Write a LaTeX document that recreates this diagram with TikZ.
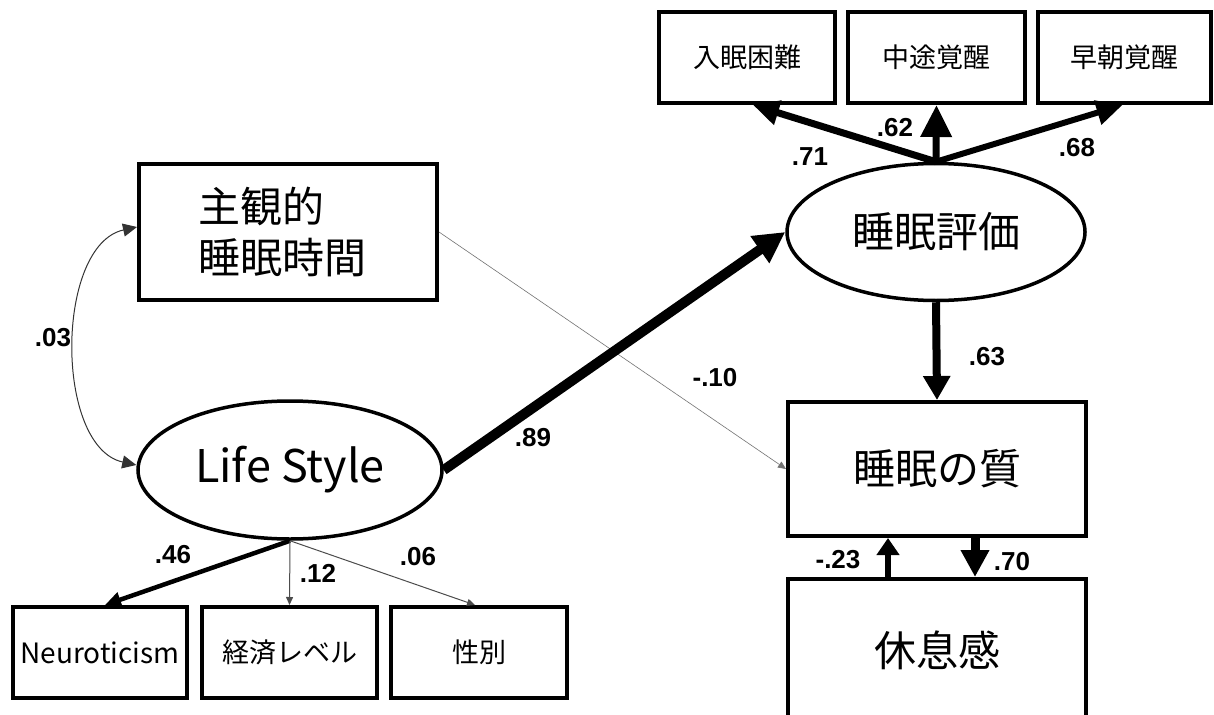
\documentclass[tikz,border=0pt]{standalone}
\usepackage{fontspec}
\setmainfont{Noto Sans CJK JP}
\newfontfamily\numfont{Liberation Sans}
\usetikzlibrary{arrows.meta,shapes.geometric}
\begin{document}
\begin{tikzpicture}[x=1pt,y=-1pt,
  box/.style={draw, line width=4pt, rectangle, inner sep=0pt, font=\fontsize{27}{32}\selectfont},
  ell/.style={draw, line width=3.5pt, ellipse, inner sep=0pt},
  big/.style={font=\fontsize{42}{51}\selectfont},
  num/.style={font=\numfont\bfseries\fontsize{26}{30}\selectfont, inner sep=0pt},
  arr/.style 2 args={-{Triangle[length=#1pt,width=#2pt]}},
]
\useasboundingbox[fill=white] (0,0) rectangle (1214,714);

% nodes
\node[box, minimum width=176pt, minimum height=91pt] (n1) at (747,57.5) {入眠困難};
\node[box, minimum width=177pt, minimum height=91pt] (n2) at (936.5,57.5) {中途覚醒};
\node[box, minimum width=173pt, minimum height=91pt] (n3) at (1124.5,57.5) {早朝覚醒};
\node[ell, big, minimum width=298pt, minimum height=137pt] (sev) at (936,232) {睡眠評価};
\node[box, big, minimum width=298pt, minimum height=136pt, text width=180pt, align=left] (subj) at (288,232) {主観的\\睡眠時間};
\node[ell, font=\fontsize{45}{50}\selectfont, minimum width=304pt, minimum height=138pt] (ls) at (290,470) {Life Style};
\node[box, big, minimum width=298pt, minimum height=134pt] (qual) at (937,469) {睡眠の質};
\node[box, big, minimum width=298pt, minimum height=142pt] (rest) at (937,650) {休息感};
\node[box, font=\fontsize{28}{32}\selectfont, minimum width=174pt, minimum height=91pt] (neu) at (100,652.5) {Neuroticism};
\node[box, minimum width=175pt, minimum height=91pt] (eco) at (289.5,652.5) {経済レベル};
\node[box, minimum width=176pt, minimum height=91pt] (sex) at (479,652.5) {性別};

% connectors
\draw[line width=7pt, arr={26}{24}] (sev.north) -- ([xshift=6pt]n1.south);
\draw[line width=7pt, arr={32}{30}] (sev.north) -- (n2.south);
\draw[line width=6pt, arr={26}{24}] (sev.north) -- ([xshift=-2pt]n3.south);
\draw[line width=0.6pt, black!55, arr={8}{7}] (subj.east) -- (qual.west);
\draw[line width=10pt, arr={31}{31}] (ls.east) -- (sev.west);
\draw[line width=8pt, arr={24}{26}] (sev.south) -- (qual.north);
\draw[line width=6pt, arr={17}{22}] ([xshift=-49pt]rest.north) -- ([xshift=-49pt]qual.south);
\draw[line width=9pt, arr={27}{27}] ([xshift=38pt]qual.south) -- ([xshift=38pt]rest.north);
\draw[line width=4.5pt, arr={16}{15}] (ls.south) -- ([xshift=5pt]neu.north);
\draw[line width=1pt, black!70, arr={8}{7}] (ls.south) -- (eco.north);
\draw[line width=1pt, black!70, arr={8}{7}] (ls.south) -- ([xshift=-4pt]sex.north);
\draw[line width=1pt, black!80, {Triangle[length=14pt,width=13pt]}-{Triangle[length=14pt,width=13pt]}]
  ([yshift=5pt]subj.west) .. controls +(-82,18) and +(-82,-18) .. ([yshift=5pt]ls.west);

% labels
\node[num] (l71) at (810,157) {.71};
\node[num] (l62) at (895,128) {.62};
\node[num] (l68) at (1077,148) {.68};
\node[num] (l89) at (533,438) {.89};
\node[num] (l10) at (715,378) {-.10};
\node[num] (l63) at (987,357) {.63};
\node[num] (l23) at (838,560) {-.23};
\node[num] (l70) at (1012,562) {.70};
\node[num] (l03) at (53,338) {.03};
\node[num] (l46) at (173,555) {.46};
\node[num] (l12) at (318,573) {.12};
\node[num] (l06) at (418,557) {.06};
\end{tikzpicture}
\end{document}
